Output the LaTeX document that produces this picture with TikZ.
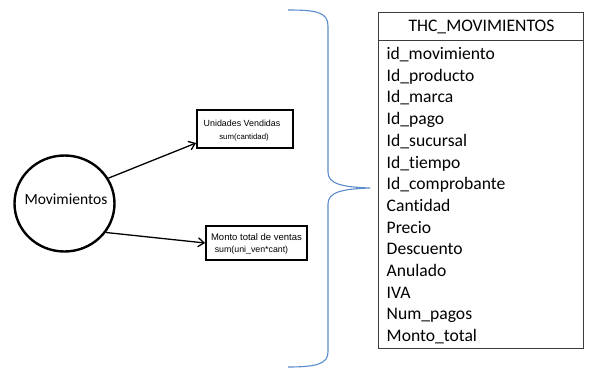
\documentclass[tikz,border=0pt]{standalone}
\usepackage{fontspec}
\setmainfont{Carlito}[RawFeature=-liga]
\newfontfamily\boxfont{Liberation Sans}
\usetikzlibrary{arrows.meta,shapes.geometric}
\definecolor{bracecol}{RGB}{91,140,205}
\definecolor{framecol}{RGB}{60,60,60}
\tikzset{
  entity/.style={draw, line width=2.4pt, ellipse, minimum width=100pt, minimum height=96pt, inner sep=0pt},
  measure/.style={draw, line width=1.8pt, rectangle, inner sep=0pt},
  mtext/.style={font=\boxfont\fontsize{8.9}{10}\selectfont, inner sep=0pt},
  stext/.style={font=\boxfont\fontsize{7.8}{9}\selectfont, inner sep=0pt},
  link/.style={line width=1.3pt, -{Straight Barb[length=6pt,width=9pt,line width=1.3pt]}},
  brace/.style={draw=bracecol, line width=1.1pt},
  tablebox/.style={draw=framecol, line width=0.9pt, rectangle, inner sep=0pt},
  field/.style={anchor=base west, inner sep=0pt, font=\fontsize{17.6}{20}\selectfont},
}
\begin{document}
\begin{tikzpicture}[x=1pt,y=-1pt]
\useasboundingbox (0,0) rectangle (589,375);
\fill[white] (0,0) rectangle (589,375);

% fact entity
\node[entity] (mov) at (64.5,203.5) {};
\node[inner sep=0pt, font=\fontsize{15.5}{18}\selectfont, anchor=base] (movlbl) at (66,204) {Movimientos};

% measures
\node[measure, minimum width=96pt, minimum height=38pt] (m1) at (245,129) {};
\node[mtext] (m1a) at (242,123) {Unidades Vendidas};
\node[stext] (m1b) at (244,137) {sum(cantidad)};

\node[measure, minimum width=101pt, minimum height=34pt] (m2) at (256.5,243) {};
\node[mtext, font=\boxfont\fontsize{9.5}{11}\selectfont] (m2a) at (256.5,237) {Monto total de ventas};
\node[mtext, font=\boxfont\fontsize{8.8}{10}\selectfont] (m2b) at (251.5,250.5) {sum(uni\_ven*cant)};

\draw[link] (mov.30) -- (m1.west |- 0,143);
\draw[link] (mov.-35) -- (m2.west);

% grouping brace
\coordinate (btop) at (288,10);
\coordinate (btip) at (370,188);
\coordinate (bbot) at (288,367);
\draw[brace] (btop) .. controls (316,10) and (328,12) .. (328,26)
  -- (328,172) .. controls (328,184) and (342,187) .. (btip)
  .. controls (342,189) and (328,192) .. (328,204)
  -- (328,352) .. controls (328,364) and (316,367) .. (bbot);

% fact table
\node[tablebox, minimum width=205pt, minimum height=336pt] (tbl) at (480.5,180) {};
\draw[framecol, line width=0.9pt] (tbl.west |- 0,40) -- (tbl.east |- 0,40);
\node[inner sep=0pt, anchor=base, font=\fontsize{17.6}{20}\selectfont] (hdr) at (481.5,31) {THC\_MOVIMIENTOS};
\foreach \t [count=\i] in {id\_movimiento, Id\_producto, Id\_marca, Id\_pago, Id\_sucursal,
    Id\_tiempo, Id\_comprobante, Cantidad, Precio, Descuento, Anulado, IVA, Num\_pagos, Monto\_total}
  \node[field] (f\i) at (386.5,{59.5+(\i-1)*21.7}) {\t};
\end{tikzpicture}
\end{document}
